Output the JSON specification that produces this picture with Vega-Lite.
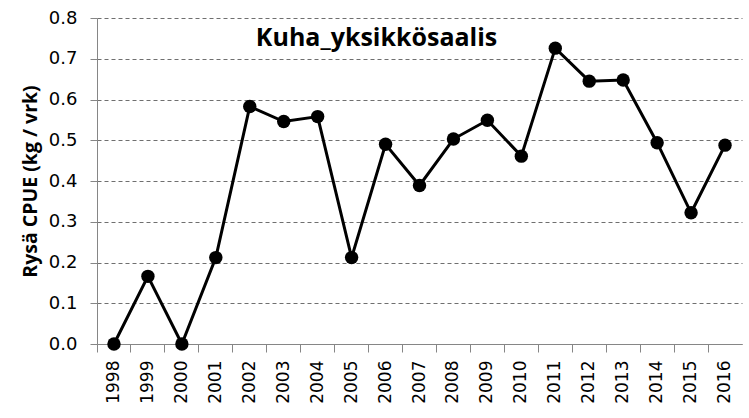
{
  "$schema": "https://vega.github.io/schema/vega-lite/v6.json",
  "width": 645,
  "height": 326,
  "autosize": {"type": "none"},
  "padding": {"left": 97, "top": 18, "right": 7, "bottom": 74},
  "background": "white",
  "config": {"view": {"stroke": null}},
  "data": {
    "values": [
      {"year": "1998", "cpue": 0.0},
      {"year": "1999", "cpue": 0.166},
      {"year": "2000", "cpue": 0.0},
      {"year": "2001", "cpue": 0.212},
      {"year": "2002", "cpue": 0.583},
      {"year": "2003", "cpue": 0.546},
      {"year": "2004", "cpue": 0.558},
      {"year": "2005", "cpue": 0.212},
      {"year": "2006", "cpue": 0.490},
      {"year": "2007", "cpue": 0.389},
      {"year": "2008", "cpue": 0.503},
      {"year": "2009", "cpue": 0.549},
      {"year": "2010", "cpue": 0.461},
      {"year": "2011", "cpue": 0.726},
      {"year": "2012", "cpue": 0.645},
      {"year": "2013", "cpue": 0.648},
      {"year": "2014", "cpue": 0.494},
      {"year": "2015", "cpue": 0.322},
      {"year": "2016", "cpue": 0.488}
    ]
  },
  "layer": [
    {
      "mark": {"type": "line", "color": "#000000", "strokeWidth": 3},
      "encoding": {
        "x": {
          "field": "year", "type": "ordinal",
          "scale": {"type": "band", "paddingInner": 0, "paddingOuter": 0},
          "axis": {
            "orient": "bottom",
            "title": null, "labels": false, "ticks": true, "bandPosition": 0,
            "tickSize": 8, "tickColor": "#868686", "domainColor": "#868686",
            "tickWidth": 1, "domainWidth": 1, "grid": false
          }
        },
        "y": {
          "field": "cpue", "type": "quantitative",
          "scale": {"domain": [0, 0.8], "nice": false, "zero": true},
          "axis": {
            "title": "Rysä CPUE (kg / vrk)",
            "titleFont": "Open Sans", "titleFontSize": 19.5, "titleFontWeight": "bold",
            "titleColor": "#000000", "titlePadding": 8,
            "values": [0, 0.1, 0.2, 0.3, 0.4, 0.5, 0.6, 0.7, 0.8],
            "format": ".1f",
            "labelFont": "DejaVu Sans", "labelFontSize": 18, "labelColor": "#000000",
            "labelPadding": 13, "tickSize": 7, "tickColor": "#868686",
            "domainColor": "#868686", "domainWidth": 1,
            "grid": true, "gridColor": "#6f6f6f", "gridDash": [4, 3], "gridWidth": 1
          }
        }
      }
    },
    {
      "mark": {"type": "point", "filled": true, "color": "#000000", "size": 180, "opacity": 1},
      "encoding": {
        "x": {
          "field": "year", "type": "ordinal",
          "axis": {
            "orient": "bottom",
            "title": null, "ticks": false, "domain": false, "grid": false,
            "labelAngle": -90, "labelFont": "DejaVu Sans", "labelFontSize": 17,
            "labelColor": "#000000", "labelPadding": 16
          }
        },
        "y": {"field": "cpue", "type": "quantitative"}
      }
    },
    {
      "data": {"values": [{"label": "Kuha_yksikkösaalis", "year": "2006", "cpue": 0.731}]},
      "mark": {
        "type": "text", "font": "Open Sans", "fontSize": 25, "fontWeight": "bold",
        "color": "#000000", "align": "center", "baseline": "alphabetic", "dx": -9
      },
      "encoding": {
        "x": {"field": "year", "type": "ordinal", "axis": null},
        "y": {"field": "cpue", "type": "quantitative"},
        "text": {"field": "label"}
      }
    }
  ],
  "resolve": {"axis": {"x": "independent"}}
}
